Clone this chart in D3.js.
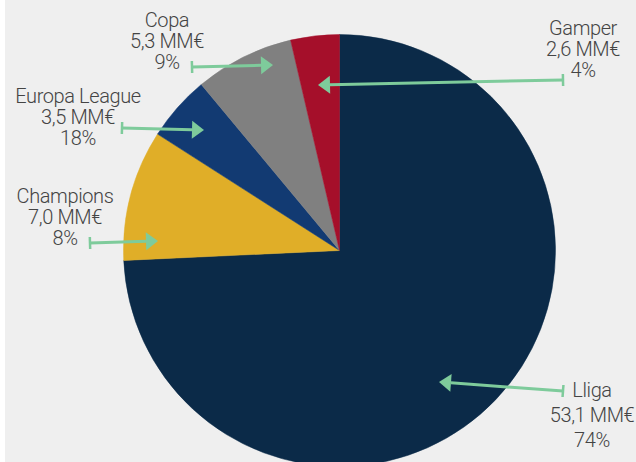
<!DOCTYPE html>
<html>
<head>
<meta charset="utf-8">
<script src="https://cdn.jsdelivr.net/npm/d3@7"></script>
<style>
  html, body { margin: 0; padding: 0; background: #efefef; }
  svg { display: block; }
  text { font-family: Roboto, "Open Sans", sans-serif; font-weight: 300; fill: #444; }
</style>
</head>
<body>
<svg id="chart" width="636" height="462"></svg>
<script>
// ---- data ----
const categories = ["Lliga", "Champions", "Europa League", "Copa", "Gamper"];
const values = [53.1, 7.0, 3.5, 5.3, 2.6];
const valueLabels = ["53,1 MM€", "7,0 MM€", "3,5 MM€", "5,3 MM€", "2,6 MM€"];
const percentLabels = ["74%", "8%", "18%", "9%", "4%"];
const colors = ["#0b2a48", "#e0ae28", "#123a72", "#808080", "#a50f2a"];

// ---- layout of annotations (label anchor, arrow start / tip) ----
const annot = {
  "Lliga":         { tx: 592, ty: 397, lh: 25, from: [563, 391], to: [439, 382] },
  "Champions":     { tx: 65,  ty: 203, lh: 21, from: [90, 243],  to: [158, 241] },
  "Europa League": { tx: 78,  ty: 103, lh: 21, from: [122, 128], to: [204, 130] },
  "Copa":          { tx: 167, ty: 27,  lh: 21, from: [192, 67],  to: [273, 65] },
  "Gamper":        { tx: 583, ty: 35,  lh: 21, from: [563, 80],  to: [318, 85] }
};

const W = 636, H = 462;
const svg = d3.select("#chart");
svg.append("rect").attr("width", W).attr("height", H).attr("fill", "#efefef");
svg.append("rect").attr("width", 5).attr("height", H).attr("fill", "#ffffff");

const cx = 339.5, cy = 250.5, R = 216;
const data = categories.map((c, i) => ({ name: c, value: values[i], vl: valueLabels[i], pl: percentLabels[i], color: colors[i] }));

const pie = d3.pie().sort(null).value(d => d.value).startAngle(0).endAngle(2 * Math.PI);
const arc = d3.arc().innerRadius(0).outerRadius(R);

const g = svg.append("g").attr("transform", `translate(${cx},${cy})`);
g.selectAll("path").data(pie(data)).join("path")
  .attr("d", arc)
  .attr("fill", d => d.data.color)
  .attr("stroke", d => d.data.color)
  .attr("stroke-width", 0.5);

const green = "#7ecb9b";
const ann = svg.append("g");
data.forEach(d => {
  const a = annot[d.name];
  const [x1, y1] = a.from, [x2, y2] = a.to;
  const ang = Math.atan2(y2 - y1, x2 - x1);
  const headLen = 12, headHalf = 9;
  const bx = x2 - headLen * Math.cos(ang), by = y2 - headLen * Math.sin(ang);
  // shaft
  ann.append("line").attr("x1", x1).attr("y1", y1).attr("x2", bx).attr("y2", by)
    .attr("stroke", green).attr("stroke-width", 3);
  // tick at start
  const px = -Math.sin(ang), py = Math.cos(ang);
  ann.append("line")
    .attr("x1", x1 + px * 6).attr("y1", y1 + py * 6)
    .attr("x2", x1 - px * 6).attr("y2", y1 - py * 6)
    .attr("stroke", green).attr("stroke-width", 2.5);
  // head
  ann.append("polygon")
    .attr("points", [[x2, y2], [bx + px * headHalf, by + py * headHalf], [bx - px * headHalf, by - py * headHalf]].map(p => p.join(",")).join(" "))
    .attr("fill", green);
  // label lines
  [d.name, d.vl, d.pl].forEach((s, i) => {
    ann.append("text")
      .attr("text-anchor", "middle")
      .attr("font-size", 20)
      .attr("letter-spacing", -0.4)
      .attr("x", a.tx).attr("y", a.ty + i * a.lh)
      .text(s);
  });
});
</script>
</body>
</html>
